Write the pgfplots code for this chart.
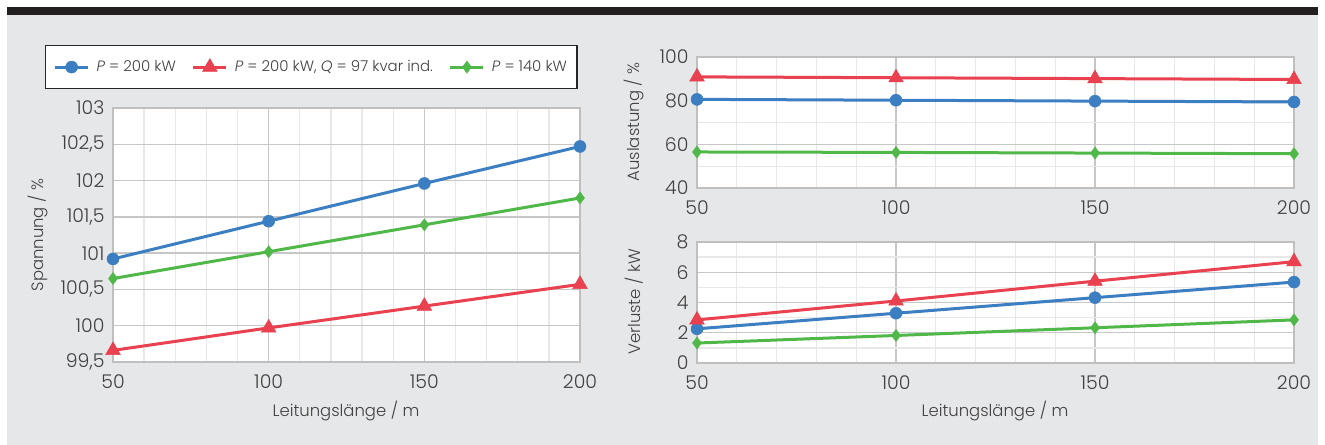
\documentclass[border=0pt]{standalone}
\usepackage{fontspec}
\setmainfont{Poppins}[UprightFont=* Light, ItalicFont=* Light Italic]
\usepackage{pgfplots}
\pgfplotsset{compat=1.18}
\definecolor{bgcol}{HTML}{E6E7E8}
\definecolor{barcol}{HTML}{231F20}
\definecolor{txt}{HTML}{414042}
\definecolor{cblue}{HTML}{3C7EC2}
\definecolor{cred}{HTML}{E9414F}
\definecolor{cgreen}{HTML}{50B848}
\pgfplotsset{
  myaxis/.style={
    scale only axis, clip=false,
    xmin=50, xmax=200, xtick={50,100,150,200},
    minor x tick num=4,
    grid=both,
    major grid style={draw=black!22, line width=1.3bp},
    minor grid style={draw=black!9, line width=1.3bp},
    axis line style={draw=black!25, line width=1.3bp},
    axis background/.style={fill=white},
    tick style={draw=none},
    tick label style={font=\fontsize{19}{22}\selectfont, text=txt},
    xticklabel style={yshift=-9bp},
    yticklabel style={xshift=-5bp},
    /pgf/number format/.cd, use comma, 1000 sep={}, assume math mode=true,
  },
  sb/.style={cblue, line width=3bp, mark=*, mark size=6bp, mark options={solid, fill=cblue, draw=cblue, line width=0.5bp}},
  sr/.style={cred, line width=3bp, mark=triangle*, mark size=8.5bp, mark options={solid, fill=cred, draw=cred, line width=0.5bp}},
  sg/.style={cgreen, line width=3bp, mark=diamond*, mark size=6bp, mark options={solid, fill=cgreen, draw=cgreen, line width=0.5bp}},
}
\begin{document}
\begin{tikzpicture}
\fill[white] (0,0) rectangle (1325bp,-445bp);
\fill[bgcol] (7bp,-15bp) rectangle (1318bp,-445bp);
\fill[barcol] (7bp,-7bp) rectangle (1318bp,-15bp);

% Left: Spannung
\begin{axis}[myaxis,
  at={(113bp,-108bp)}, anchor=north west,
  width=467bp, height=254bp,
  ymin=99.5, ymax=103, ytick={99.5,100,100.5,101,101.5,102,102.5,103},
  legend columns=3,
  legend style={at={(-0.1456,1.248)}, anchor=north west, draw=black!85, line width=1.2bp,
    fill=white, font=\fontsize{15}{18}\selectfont, text=txt,
    inner xsep=8bp, inner ysep=13bp,
    /tikz/every odd column/.append style={column sep=5bp},
    /tikz/every even column/.append style={column sep=14bp}},
  legend image code/.code={\draw[mark repeat=2, mark phase=2] plot coordinates {(0bp,0bp) (16.5bp,0bp) (33bp,0bp)};},
]
\addplot[sb] coordinates {(50,100.92) (100,101.44) (150,101.96) (200,102.47)};
\addlegendentry{\textit{P} = 200 kW}
\addplot[sr] coordinates {(50,99.66) (100,99.97) (150,100.27) (200,100.57)};
\addlegendentry{\textit{P} = 200 kW, \textit{Q} = 97 kvar ind.}
\addplot[sg] coordinates {(50,100.65) (100,101.02) (150,101.39) (200,101.76)};
\addlegendentry{\textit{P} = 140 kW}
\end{axis}

% Right top: Auslastung
\begin{axis}[myaxis,
  at={(697bp,-57bp)}, anchor=north west,
  width=597bp, height=131bp,
  ymin=40, ymax=100, ytick={40,60,80,100}, minor y tick num=1,
]
\addplot[sb] coordinates {(50,80.6) (100,80.2) (150,79.8) (200,79.4)};
\addplot[sr] coordinates {(50,90.9) (100,90.5) (150,90.1) (200,89.7)};
\addplot[sg] coordinates {(50,56.5) (100,56.3) (150,56.0) (200,55.7)};
\end{axis}

% Right bottom: Verluste
\begin{axis}[myaxis,
  at={(697bp,-242bp)}, anchor=north west,
  width=597bp, height=121bp,
  ymin=0, ymax=8, ytick={0,2,4,6,8}, minor y tick num=1,
]
\addplot[sb] coordinates {(50,2.26) (100,3.29) (150,4.32) (200,5.35)};
\addplot[sr] coordinates {(50,2.85) (100,4.1) (150,5.41) (200,6.7)};
\addplot[sg] coordinates {(50,1.32) (100,1.82) (150,2.33) (200,2.85)};
\end{axis}

\begin{scope}[every node/.style={text=txt, font=\fontsize{16.5}{20}\selectfont}]
\node[rotate=90] at (38bp,-235bp) {Spannung / \%};
\node at (346bp,-411bp) {Leitungslänge / m};
\node[rotate=90] at (634bp,-122bp) {Auslastung / \%};
\node[rotate=90] at (634bp,-302bp) {Verluste / kW};
\node at (995bp,-411bp) {Leitungslänge / m};
\end{scope}
\end{tikzpicture}
\end{document}
